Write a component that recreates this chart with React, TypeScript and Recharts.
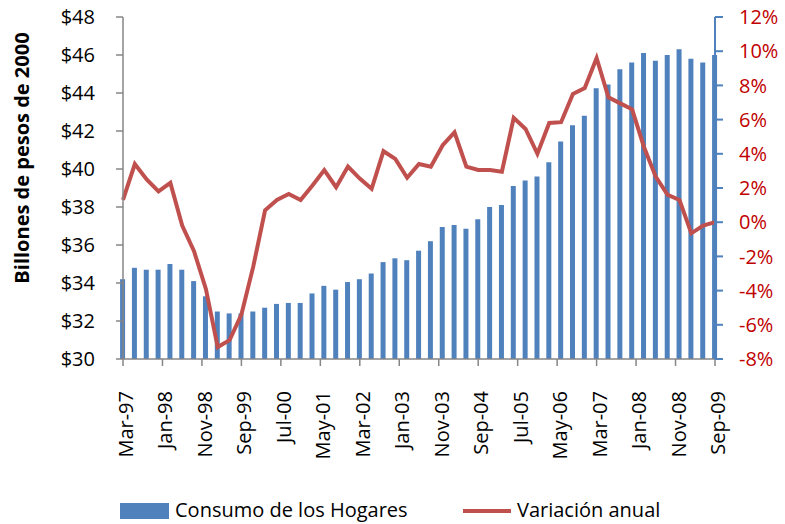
import { ComposedChart, Bar, Line, XAxis, YAxis } from 'recharts';

// quarterly series, Mar-97 .. Sep-09
const QUARTERS = [
  'Mar-97', 'Jun-97', 'Sep-97', 'Dec-97',
  'Mar-98', 'Jun-98', 'Sep-98', 'Dec-98',
  'Mar-99', 'Jun-99', 'Sep-99', 'Dec-99',
  'Mar-00', 'Jun-00', 'Sep-00', 'Dec-00',
  'Mar-01', 'Jun-01', 'Sep-01', 'Dec-01',
  'Mar-02', 'Jun-02', 'Sep-02', 'Dec-02',
  'Mar-03', 'Jun-03', 'Sep-03', 'Dec-03',
  'Mar-04', 'Jun-04', 'Sep-04', 'Dec-04',
  'Mar-05', 'Jun-05', 'Sep-05', 'Dec-05',
  'Mar-06', 'Jun-06', 'Sep-06', 'Dec-06',
  'Mar-07', 'Jun-07', 'Sep-07', 'Dec-07',
  'Mar-08', 'Jun-08', 'Sep-08', 'Dec-08',
  'Mar-09', 'Jun-09', 'Sep-09',
];

// Consumo de los Hogares (billones de pesos de 2000)
const CONSUMO = [
  34.2, 34.8, 34.7, 34.7, 35.0, 34.7, 34.1, 33.3, 32.5, 32.4,
  32.4, 32.5, 32.7, 32.9, 32.95, 32.95, 33.45, 33.85, 33.65, 34.05,
  34.2, 34.5, 35.1, 35.3, 35.2, 35.7, 36.2, 36.95, 37.05, 36.85,
  37.35, 38.0, 38.1, 39.1, 39.4, 39.6, 40.35, 41.45, 42.3, 42.8,
  44.25, 44.45, 45.25, 45.6, 46.1, 45.7, 46.0, 46.3, 45.8, 45.6, 46.0,
];

// Variación anual (%)
const VARIACION = [
  1.3, 3.4, 2.5, 1.8, 2.3, -0.2, -1.7, -3.9, -7.3, -6.9,
  -5.4, -2.6, 0.7, 1.3, 1.65, 1.3, 2.15, 3.05, 2.05, 3.25,
  2.55, 1.95, 4.15, 3.7, 2.6, 3.4, 3.25, 4.5, 5.25, 3.25,
  3.05, 3.05, 2.95, 6.1, 5.45, 4.0, 5.8, 5.85, 7.5, 7.85,
  9.6, 7.3, 6.95, 6.6, 4.4, 2.65, 1.6, 1.3, -0.65, -0.2, 0.0,
];

const X_TICK_LABELS = [
  'Mar-97', 'Jan-98', 'Nov-98', 'Sep-99', 'Jul-00', 'May-01', 'Mar-02', 'Jan-03',
  'Nov-03', 'Sep-04', 'Jul-05', 'May-06', 'Mar-07', 'Jan-08', 'Nov-08', 'Sep-09',
];
const LEFT_TICKS = [30, 32, 34, 36, 38, 40, 42, 44, 46, 48];
const RIGHT_TICKS = [-8, -6, -4, -2, 0, 2, 4, 6, 8, 10, 12];

const MONTHS = ['Jan', 'Feb', 'Mar', 'Apr', 'May', 'Jun', 'Jul', 'Aug', 'Sep', 'Oct', 'Nov', 'Dec'];

// months since Mar-97
const monthIndex = (label: string) => {
  const [mon, yy] = label.split('-');
  const n = Number(yy);
  const year = n > 50 ? 1900 + n : 2000 + n;
  return (year - 1997) * 12 + MONTHS.indexOf(mon) - 2;
};

const data = QUARTERS.map((q, i) => ({
  m: monthIndex(q),
  label: q,
  consumo: CONSUMO[i],
  variacion: VARIACION[i],
}));

const xTicks = X_TICK_LABELS.map(monthIndex);

const FONT = '"Open Sans", Lato, sans-serif';
const BLUE = '#4F81BD';
const RED = '#C0504D';
const GRAY = '#868686';

const XTick = (props: any) => {
  const { x, y, payload } = props;
  const idx = xTicks.indexOf(payload.value);
  return (
    <g transform={`translate(${x},${y})`}>
      <text
        transform="rotate(-90)"
        textAnchor="end"
        dy="0.35em"
        y={3}
        fill="#000"
        style={{ fontSize: 20, fontFamily: FONT }}
      >
        {X_TICK_LABELS[idx]}
      </text>
    </g>
  );
};

const AxisTitle = () => (
  <text
    x={21}
    y={158}
    transform="rotate(-90 21 158)"
    textAnchor="middle"
    dominantBaseline="central"
    fill="#000"
    style={{ fontSize: 20, fontWeight: 'bold', fontFamily: FONT }}
  >
    Billones de pesos de 2000
  </text>
);

export default function App() {
  return (
    <div style={{ position: 'absolute', left: 0, top: 0, width: 785, height: 524, fontFamily: FONT, background: '#fff' }}>
      <ComposedChart
        width={785}
        height={494}
        data={data}
        margin={{ top: 17, right: 0, bottom: 0, left: 0 }}
      >
        <XAxis
          dataKey="m"
          type="number"
          domain={[0, 150]}
          ticks={xTicks}
          interval={0}
          height={135}
          tick={<XTick />}
          tickSize={7}
          tickMargin={25}
          axisLine={{ stroke: GRAY, strokeWidth: 1.5 }}
          tickLine={{ stroke: GRAY, strokeWidth: 1.5 }}
        />
        <YAxis
          yAxisId="left"
          orientation="left"
          width={123}
          domain={[30, 48]}
          ticks={LEFT_TICKS}
          interval={0}
          tickFormatter={(v: number) => `$${v}`}
          tick={{ fill: '#000', fontSize: 20 }}
          tickSize={7}
          tickMargin={21}
          axisLine={{ stroke: GRAY, strokeWidth: 1.5 }}
          tickLine={{ stroke: GRAY, strokeWidth: 1.5 }}
          label={{ content: () => <AxisTitle /> }}
        />
        <YAxis
          yAxisId="right"
          orientation="right"
          width={70}
          domain={[-8, 12]}
          ticks={RIGHT_TICKS}
          interval={0}
          tickFormatter={(v: number) => `${v}%`}
          tick={{ fill: '#C00000', fontSize: 20 }}
          tickSize={8}
          tickMargin={16}
          axisLine={{ stroke: BLUE, strokeWidth: 2 }}
          tickLine={{ stroke: BLUE, strokeWidth: 2 }}
        />
        <Bar
          yAxisId="left"
          dataKey="consumo"
          name="Consumo de los Hogares"
          fill={BLUE}
          barSize={5}
          isAnimationActive={false}
        />
        <Line
          yAxisId="right"
          dataKey="variacion"
          name="Variación anual"
          type="linear"
          stroke={RED}
          strokeWidth={4}
          dot={false}
          isAnimationActive={false}
        />
      </ComposedChart>
      <div style={{ position: 'absolute', left: 120, top: 503, width: 49, height: 16, background: BLUE }} />
      <div style={{ position: 'absolute', left: 175, top: 496, lineHeight: '28px', fontSize: 20, color: '#000', whiteSpace: 'nowrap' }}>
        Consumo de los Hogares
      </div>
      <div style={{ position: 'absolute', left: 463, top: 509, width: 48, height: 4, background: RED }} />
      <div style={{ position: 'absolute', left: 517, top: 496, lineHeight: '28px', fontSize: 20, color: '#000', whiteSpace: 'nowrap' }}>
        Variación anual
      </div>
    </div>
  );
}
